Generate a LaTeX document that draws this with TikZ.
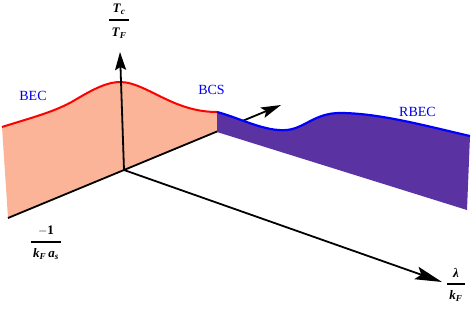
\documentclass[tikz,border=0pt]{standalone}
\usepackage{amsmath}
\usepackage{fontspec}
\setmainfont{Liberation Serif}
\usetikzlibrary{arrows.meta}
\newcommand\bi[1]{\textbf{\textit{#1}}}
\newcommand\myfrac[2]{$\displaystyle\genfrac{}{}{1.7pt}{0}{\kern2.5pt #1\kern2.5pt}{\kern2.5pt\rule{0pt}{10pt}#2\kern2.5pt}$}
\definecolor{orangefill}{RGB}{251,180,152}
\definecolor{purplefill}{RGB}{90,50,162}
\definecolor{labelblue}{RGB}{0,0,235}
\begin{document}
\begin{tikzpicture}[x=1pt,y=-1pt,
  axisline/.style={line width=1.8pt,black},
  fraclabel/.style={font=\fontsize{13}{15}\selectfont, inner sep=0pt},
  regionlabel/.style={font=\fontsize{14}{16}\selectfont, text=labelblue, inner sep=0pt}]
\useasboundingbox (0,0) rectangle (471,309);
% named points
\coordinate (O) at (124,170);
\coordinate (Vtip) at (120,52);
\coordinate (Xneg) at (8,218);
\coordinate (Xtip) at (281,105);
\coordinate (Ltip) at (442,282);
% orange surface
\fill[orangefill] (2,127) .. controls (30,118) and (55,112) .. (75,100)
  .. controls (95,88) and (108,82) .. (120,82)
  .. controls (135,82) and (150,92) .. (170,101)
  .. controls (190,110) and (205,112) .. (217,112)
  -- (217,131) -- (Xneg) -- cycle;
\draw[red, line width=2pt] (2,127) .. controls (30,118) and (55,112) .. (75,100)
  .. controls (95,88) and (108,82) .. (120,82)
  .. controls (135,82) and (150,92) .. (170,101)
  .. controls (190,110) and (205,112) .. (217,112);
% axes
\draw[axisline, -{Stealth[length=18pt,width=11pt,inset=3pt]}] (O) -- (Vtip);
\draw[axisline, -{Stealth[length=20pt,width=11pt,inset=4pt]}] (Xneg) -- (Xtip);
\draw[axisline, -{Stealth[length=27pt,width=13pt,inset=5pt]}] (O) -- (Ltip);
% purple surface
\fill[purplefill] (217,112) .. controls (240,118) and (265,132) .. (287,130)
  .. controls (305,128) and (315,113) .. (340,113)
  .. controls (380,113) and (430,127) .. (470,136)
  -- (467,210) -- (217,132) -- cycle;
\draw[blue, line width=2.2pt] (217,112) .. controls (240,118) and (265,132) .. (287,130)
  .. controls (305,128) and (315,113) .. (340,113)
  .. controls (380,113) and (430,127) .. (470,136);
% labels
\node[regionlabel] (bec) at (33,96) {BEC};
\node[regionlabel] (bcs) at (211.5,90) {BCS};
\node[regionlabel] (rbec) at (417.5,111.5) {RBEC};
\node[fraclabel] (tlab) at (119,21) {\myfrac{\bi{T}_{\bi{c}}}{\bi{T}_{\bi{F}}}};
\node[fraclabel] (xlab) at (46,243) {\myfrac{\textbf{$-$1}}{\bi{k}_{\bi{F}}\,\bi{a}_{\bi{s}}}};
\node[fraclabel] (llab) at (456,285) {\myfrac{\bi{λ}}{\bi{k}_{\bi{F}}}};
\end{tikzpicture}
\end{document}
